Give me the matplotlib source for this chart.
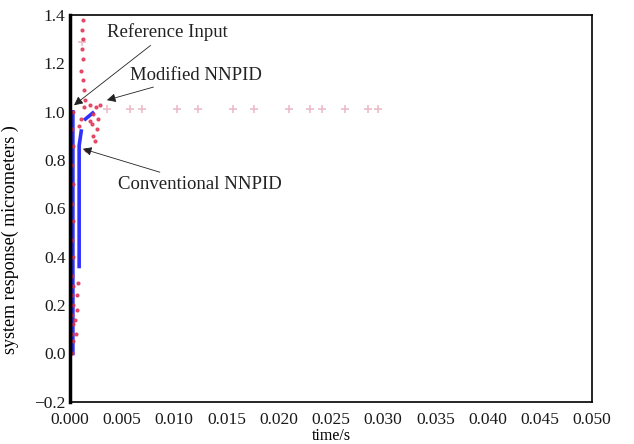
import numpy as np
import matplotlib.pyplot as plt

plt.rcParams['font.family'] = ['Liberation Serif', 'DejaVu Serif']

# reference input (step at t=0)
ref_t = [0.0, 0.0]
ref_y = [0.0, 1.0]

# conventional NNPID response (blue trace, nan = gap)
conv_t = [0.0003, 0.0003, np.nan, 0.0009, 0.0009, 0.0011, np.nan, 0.0015, 0.0022]
conv_y = [0.0, 1.0, np.nan, 0.36, 0.86, 0.92, np.nan, 0.97, 0.995]

# modified NNPID response (red dots)
mod_t = [0.0002, 0.0003, 0.0002, 0.0003, 0.0002, 0.0003, 0.0002, 0.0003, 0.0002,
         0.0003, 0.0002, 0.0003, 0.0002, 0.0003, 0.0002, 0.0003, 0.0002, 0.0003,
         0.0006, 0.0005, 0.0007, 0.0007, 0.0008, 0.0009,
         0.0013, 0.0012, 0.0013, 0.0012, 0.0013, 0.0011, 0.0013, 0.0014, 0.0015,
         0.0014, 0.0019, 0.0022, 0.0021, 0.0022, 0.0024, 0.0026, 0.0027, 0.0025,
         0.0029, 0.0011, 0.0016, 0.0019]
mod_y = [0.0, 0.05, 0.08, 0.12, 0.16, 0.2, 0.24, 0.28, 0.32,
         0.4, 0.47, 0.55, 0.62, 0.7, 0.78, 0.86, 0.93, 1.0,
         0.08, 0.14, 0.18, 0.24, 0.29, 0.94,
         1.38, 1.34, 1.30, 1.26, 1.22, 1.17, 1.13, 1.09, 1.05,
         1.02, 1.03, 0.99, 0.95, 0.90, 0.88, 0.93, 0.97, 1.02,
         1.03, 0.97, 0.84, 0.96]

# faint settled markers
set_t = [0.0012, 0.0036, 0.0058, 0.0069, 0.0103, 0.0123, 0.0156, 0.0176, 0.0210,
         0.0230, 0.0241, 0.0263, 0.0285, 0.0295]
set_y = [1.29, 1.01, 1.01, 1.01, 1.01, 1.01, 1.01, 1.01, 1.01,
         1.01, 1.01, 1.01, 1.01, 1.01]

fig = plt.figure(figsize=(6.34, 4.44), dpi=100)
ax = fig.add_axes([0.110, 0.095, 0.824, 0.871])

ax.plot(set_t, set_y, linestyle='none', marker='+', markersize=6,
        color='#ecbccb', markeredgewidth=1.2)
ax.plot(conv_t, conv_y, color='#1a1aff', linewidth=2.6, alpha=0.9)
ax.plot(mod_t, mod_y, linestyle='none', marker='o', markersize=2.0,
        color='#e03050', alpha=0.8)
ax.plot(ref_t, ref_y, color='black', linewidth=2.5)

ax.set_xlim(0, 0.05)
ax.set_ylim(-0.2, 1.4)
xt = np.arange(0, 0.0501, 0.005)
ax.set_xticks(xt)
ax.set_xticklabels([f'{v:.3f}' for v in xt])
ax.set_yticks(np.arange(-0.2, 1.41, 0.2))
ax.set_yticklabels(['\u22120.2', '0.0', '0.2', '0.4', '0.6', '0.8', '1.0', '1.2', '1.4'])
ax.tick_params(length=0, labelsize=12.5, colors='#1a1a1a')
ax.tick_params(axis='x', pad=7)
ax.tick_params(axis='y', pad=3)
for s in ax.spines.values():
    s.set_linewidth(1.2)
ax.spines['left'].set_linewidth(2.5)

ax.set_xlabel('time/s', fontsize=11.5)
ax.xaxis.set_label_coords(0.5, -0.068)
ax.set_ylabel('system response( micrometers )', fontsize=13)
ax.yaxis.set_label_coords(-0.098, 0.42)

arrow = dict(arrowstyle='-|>', color='#222222', linewidth=0.6, mutation_scale=13)
ax.annotate('Reference Input', xy=(0.0002, 1.02), xytext=(0.0036, 1.33),
            fontsize=13.5, color='#222222', va='center', arrowprops=arrow)
ax.annotate('Modified NNPID', xy=(0.0033, 1.045), xytext=(0.0058, 1.152),
            fontsize=13.5, color='#222222', va='center', arrowprops=arrow)
ax.annotate('Conventional NNPID', xy=(0.001, 0.85), xytext=(0.0046, 0.70),
            fontsize=13.5, color='#222222', va='center', arrowprops=arrow)

fig.savefig('out.png', dpi=100)
